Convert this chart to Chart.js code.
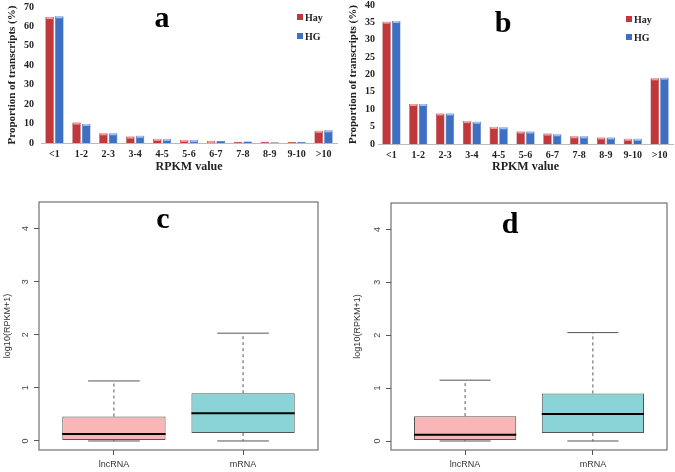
<!DOCTYPE html>
<html>
<head>
<meta charset="utf-8">
<script src="https://cdn.jsdelivr.net/npm/chart.js@4.4.0/dist/chart.umd.min.js"></script>
<style>
  body { margin: 0; background: #fff; width: 675px; height: 472px; position: relative; overflow: hidden; }
  .panel { position: absolute; }
</style>
</head>
<body>
<div class="panel" style="left:0;top:0;width:340px;height:178px"><canvas id="chartA"></canvas></div>
<div class="panel" style="left:335px;top:0;width:340px;height:178px"><canvas id="chartB"></canvas></div>
<div class="panel" style="left:0;top:180px;width:335px;height:292px"><canvas id="chartC"></canvas></div>
<div class="panel" style="left:350px;top:180px;width:325px;height:292px"><canvas id="chartD"></canvas></div>
<script>
// dados
const rpkmBins = ['<1', '1-2', '2-3', '3-4', '4-5', '5-6', '6-7', '7-8', '8-9', '9-10', '>10'];
const hayA = [64.8, 10.5, 5.0, 3.3, 2.1, 1.6, 1.1, 0.7, 0.6, 0.5, 6.3];
const hgA  = [65.2, 9.8, 5.0, 3.7, 2.1, 1.5, 1.0, 0.8, 0.4, 0.5, 6.5];
const hayB = [35.2, 11.5, 8.8, 6.6, 4.9, 3.6, 3.0, 2.2, 1.9, 1.5, 18.9];
const hgB  = [35.4, 11.5, 8.8, 6.4, 4.8, 3.6, 2.8, 2.2, 1.9, 1.5, 19.1];
const seriesNames = ['Hay', 'HG'];

const boxCategories = ['lncRNA', 'mRNA'];
// [min, q1, mediana, q3, max]
const boxStatsC = [[0, 0.02, 0.13, 0.46, 1.13], [0, 0.15, 0.52, 0.90, 2.03]];
const boxStatsD = [[0, 0.02, 0.12, 0.47, 1.15], [0, 0.15, 0.51, 0.90, 2.05]];
const boxTicks = [0, 1, 2, 3, 4];

const RED = '#C0383B';
const BLUE = '#3D70C2';
const serifBold = { family: '"Liberation Serif", "Times New Roman", serif', weight: 'bold' };

// letra do painel + legenda
const panelDecor = {
  id: 'panelDecor',
  afterDraw(chart, args, opts) {
    const ctx = chart.ctx;
    ctx.save();
    ctx.fillStyle = '#000';
    ctx.font = 'bold 30px "Liberation Serif", serif';
    ctx.textAlign = 'center';
    ctx.textBaseline = 'alphabetic';
    ctx.fillText(opts.letter, opts.letterX, opts.letterY);
    if (opts.legend) {
      const lg = opts.legend;
      ctx.font = 'bold 10px "Liberation Serif", serif';
      ctx.textAlign = 'left';
      ctx.textBaseline = 'middle';
      chart.data.datasets.forEach((ds, i) => {
        const yy = lg.y + i * lg.gap;
        ctx.fillStyle = ds.backgroundColor;
        ctx.fillRect(lg.x - 3, yy - 3, 6, 6);
        ctx.fillStyle = '#222';
        ctx.fillText(ds.label, lg.x + 5, yy + 1);
      });
    }
    ctx.restore();
  }
};

// realce claro no topo das barras (efeito 3D)
const barCaps = {
  id: 'barCaps',
  afterDatasetsDraw(chart) {
    const ctx = chart.ctx;
    ctx.save();
    chart.data.datasets.forEach((ds, di) => {
      chart.getDatasetMeta(di).data.forEach(bar => {
        const h = bar.base - bar.y;
        if (h < 2) return;
        ctx.fillStyle = di === 0 ? 'rgba(255,190,190,0.75)' : 'rgba(190,215,255,0.75)';
        ctx.fillRect(bar.x - bar.width / 2 + 1, bar.y, bar.width - 2, Math.min(2, h));
      });
    });
    ctx.restore();
  }
};

function makeBarChart(id, hay, hg, yMax, step, axisW, axisH, tickPad, pad, decor) {
  return new Chart(document.getElementById(id), {
    type: 'bar',
    data: {
      labels: rpkmBins,
      datasets: [
        { label: seriesNames[0], data: hay, backgroundColor: RED, borderColor: '#9E2A2D', borderWidth: 0.5 },
        { label: seriesNames[1], data: hg, backgroundColor: BLUE, borderColor: '#2C5599', borderWidth: 0.5 }
      ]
    },
    options: {
      responsive: true,
      maintainAspectRatio: false,
      animation: false,
      layout: { padding: pad },
      datasets: { bar: { categoryPercentage: 0.72, barPercentage: 0.88 } },
      scales: {
        x: {
          grid: { display: false, drawTicks: false },
          border: { display: true, color: '#bbb' },
          ticks: { font: { ...serifBold, size: 10 }, color: '#222', padding: 5, maxRotation: 0, autoSkip: false },
          title: { display: true, text: 'RPKM value', font: { ...serifBold, size: 12 }, color: '#222', padding: { top: 0, bottom: 4 } },
          afterFit(s) { s.height = axisH; s.paddingLeft = 0; s.paddingRight = 0; }
        },
        y: {
          min: 0, max: yMax,
          grid: { display: false, drawTicks: false },
          border: { display: false },
          ticks: { stepSize: step, font: { ...serifBold, size: 10 }, color: '#222', padding: tickPad },
          title: { display: true, text: 'Proportion of transcripts (%)', font: { ...serifBold, size: 11 }, color: '#222', padding: { top: 4, bottom: 2 } },
          afterFit(s) { s.width = axisW; s.paddingTop = 0; s.paddingBottom = 0; }
        }
      },
      plugins: { legend: { display: false }, tooltip: { enabled: false }, panelDecor: decor }
    },
    plugins: [barCaps, panelDecor]
  });
}

makeBarChart('chartA', hayA, hgA, 70, 10, 39, 35, 7, { left: 2, right: 3, top: 7, bottom: 0 },
  { letter: 'a', letterX: 162, letterY: 27, legend: { x: 300, y: 17, gap: 19 } });
makeBarChart('chartB', hayB, hgB, 40, 5, 35, 34, 3, { left: 8, right: 2, top: 5, bottom: 0 },
  { letter: 'b', letterX: 168, letterY: 32, legend: { x: 294, y: 19, gap: 18 } });

// boxplot: caixa = barra flutuante [q1, q3]; mediana e bigodes desenhados por plugin
const boxParts = {
  id: 'boxParts',
  afterDatasetsDraw(chart, args, opts) {
    const { ctx, chartArea: a, scales: { x, y } } = chart;
    ctx.save();
    opts.stats.forEach((s, i) => {
      const cx = x.getPixelForValue(i + 1);
      const hb = x.getPixelForValue(i + 1.4) - cx;
      const hc = x.getPixelForValue(i + 1.2) - cx;
      ctx.strokeStyle = '#555';
      ctx.lineWidth = 1;
      ctx.setLineDash([3, 3]);
      ctx.beginPath();
      ctx.moveTo(cx, y.getPixelForValue(s[3])); ctx.lineTo(cx, y.getPixelForValue(s[4]));
      ctx.moveTo(cx, y.getPixelForValue(s[1])); ctx.lineTo(cx, y.getPixelForValue(s[0]));
      ctx.stroke();
      ctx.setLineDash([]);
      ctx.beginPath();
      ctx.moveTo(cx - hc, y.getPixelForValue(s[4])); ctx.lineTo(cx + hc, y.getPixelForValue(s[4]));
      ctx.moveTo(cx - hc, y.getPixelForValue(s[0])); ctx.lineTo(cx + hc, y.getPixelForValue(s[0]));
      ctx.stroke();
      ctx.strokeStyle = '#000';
      ctx.lineWidth = 2;
      ctx.beginPath();
      ctx.moveTo(cx - hb, y.getPixelForValue(s[2])); ctx.lineTo(cx + hb, y.getPixelForValue(s[2]));
      ctx.stroke();
    });
    // moldura
    ctx.strokeStyle = '#555';
    ctx.lineWidth = 1;
    ctx.strokeRect(a.left, a.top, a.right - a.left, a.bottom - a.top);
    // rótulos do eixo y girados (estilo R)
    ctx.fillStyle = '#444';
    ctx.font = '9px "Liberation Sans", Arial, sans-serif';
    ctx.textAlign = 'center';
    ctx.textBaseline = 'middle';
    boxTicks.forEach(v => {
      ctx.save();
      ctx.translate(a.left - 13, y.getPixelForValue(v));
      ctx.rotate(-Math.PI / 2);
      ctx.fillText(String(v), 0, 0);
      ctx.restore();
    });
    ctx.restore();
  }
};

function makeBoxChart(id, stats, axisW, pad, decor) {
  return new Chart(document.getElementById(id), {
    type: 'bar',
    data: {
      datasets: [{
        data: stats.map((s, i) => ({ x: i + 1, y: [s[1], s[3]] })),
        backgroundColor: ['#F8B7B6', '#8AD3D6'],
        borderColor: '#555',
        borderWidth: 1,
        borderSkipped: false,
        categoryPercentage: 1.0,
        barPercentage: 0.8
      }]
    },
    options: {
      responsive: true,
      maintainAspectRatio: false,
      animation: false,
      layout: { padding: pad },
      scales: {
        x: {
          type: 'linear', min: 0.42, max: 2.58, offset: false,
          afterBuildTicks(s) { s.ticks = boxCategories.map((c, i) => ({ value: i + 1 })); },
          grid: { offset: false, drawOnChartArea: false, drawTicks: true, tickLength: 5, color: '#555' },
          border: { display: false },
          ticks: {
            callback: (v) => boxCategories[v - 1],
            font: { family: '"Liberation Sans", Arial, sans-serif', size: 9 }, color: '#333', padding: 4, maxRotation: 0
          },
          afterFit(s) { s.height = 22; }
        },
        y: {
          min: -0.17, max: 4.5,
          afterBuildTicks(s) { s.ticks = boxTicks.map(v => ({ value: v })); },
          grid: { drawOnChartArea: false, drawTicks: true, tickLength: 5, color: '#555' },
          border: { display: false },
          ticks: { display: false },
          title: { display: true, text: 'log10(RPKM+1)', font: { family: '"Liberation Sans", Arial, sans-serif', size: 9 }, color: '#333', padding: { top: 2, bottom: 2 } },
          afterFit(s) { s.width = axisW; }
        }
      },
      plugins: { legend: { display: false }, tooltip: { enabled: false }, boxParts: { stats: stats }, panelDecor: decor }
    },
    plugins: [boxParts, panelDecor]
  });
}

makeBoxChart('chartC', boxStatsC, 39, { left: 0, right: 17, top: 22, bottom: 0 },
  { letter: 'c', letterX: 163, letterY: 48 });
makeBoxChart('chartD', boxStatsD, 41, { left: 0, right: 8, top: 23, bottom: 0 },
  { letter: 'd', letterX: 160, letterY: 53 });
</script>
</body>
</html>
